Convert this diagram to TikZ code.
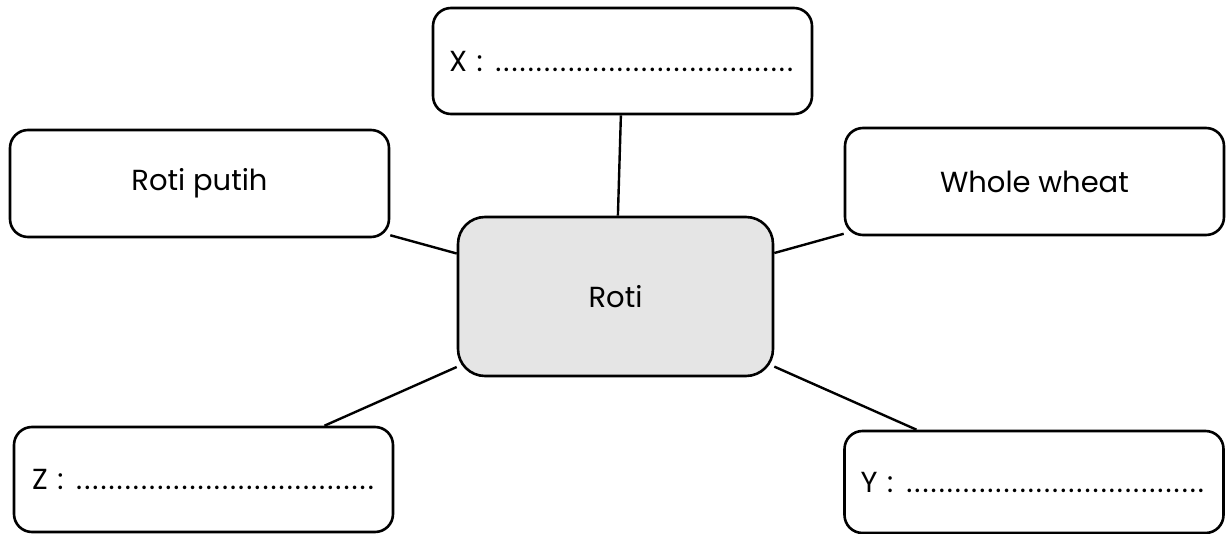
\documentclass[tikz,border=0pt]{standalone}
\usepackage{fontspec}
\setmainfont{Poppins}
\definecolor{centerfill}{HTML}{E5E5E5}
\newcommand{\blankdots}{\cleaders\hbox to 8.1pt{\hss.\hss}\hskip 0pt plus 1fill\null}
\begin{document}
\begin{tikzpicture}[x=1pt,y=-1pt,
  box/.style={draw=black, line width=2.6pt, rounded corners=18pt, rectangle,
    minimum width=379pt, inner xsep=0pt, inner ysep=0pt, font=\fontsize{29}{32}\selectfont},
  fillbox/.style={box, text width=347pt, inner xsep=16pt, align=left},
  hub/.style={box, fill=centerfill, rounded corners=27pt, minimum width=315pt, minimum height=159pt},
  link/.style={line width=2.4pt}]
\useasboundingbox (0,0) rectangle (1228,534);
\node[fillbox, minimum height=106pt] (X) at (622.5,61) {X :\ \blankdots};
\node[box, minimum height=107pt] (putih) at (199.5,183.5) {\raisebox{-2pt}{Roti putih}};
\node[box, minimum height=107pt] (wheat) at (1034.5,181.5) {\raisebox{-2pt}{Whole wheat}};
\node[hub] (roti) at (615.5,296.5) {Roti};
\node[fillbox, minimum height=105pt] (Z) at (203.5,479.5) {\kern2pt Z :\ \blankdots};
\node[fillbox, minimum height=102pt] (Y) at (1034,482) {Y :\ \blankdots};
\draw[link] (X) -- (roti);
\draw[link] (putih) -- (roti);
\draw[link] (wheat) -- (roti);
\draw[link] (Z) -- (roti);
\draw[link] (Y) -- (roti);
\end{tikzpicture}
\end{document}
